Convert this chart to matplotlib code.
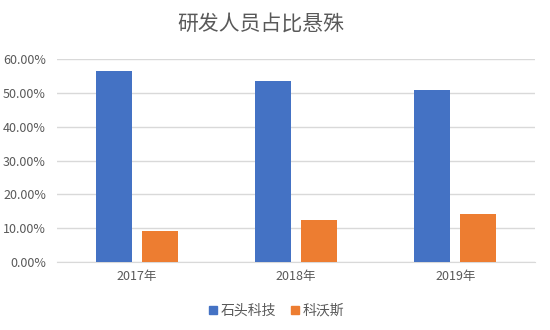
import numpy as np
import matplotlib
matplotlib.use("Agg")
import matplotlib.pyplot as plt
from matplotlib.patches import Patch

plt.rcParams['font.family'] = ['Noto Sans CJK SC', 'DejaVu Sans']

years = ["2017年", "2018年", "2019年"]
series_names = ["石头科技", "科沃斯"]
shitou = [56.5, 53.6, 51.0]
ecovacs = [9.2, 12.3, 14.1]
colors = ["#4472c4", "#ed7d31"]

fig = plt.figure(figsize=(5.5, 3.3), dpi=100)
ax = fig.add_axes([0.1036, 0.206, 0.869, 0.615])

x = np.arange(len(years))
w = 0.226
off = 0.144
ax.bar(x - off, shitou, w, color=colors[0], zorder=3)
ax.bar(x + off, ecovacs, w, color=colors[1], zorder=3)

ax.set_xlim(-0.5, 2.5)
ax.set_ylim(0, 60)
ax.set_yticks(np.arange(0, 61, 10))
ax.set_yticklabels([f"{v:.2f}%" for v in np.arange(0, 61, 10)])
ax.set_xticks(x)
ax.set_xticklabels(years)
ax.grid(axis="y", color="#d9d9d9", lw=1, zorder=0)
for s in ["top", "right", "left"]:
    ax.spines[s].set_visible(False)
ax.spines["bottom"].set_color("#d9d9d9")
ax.tick_params(length=0, colors="#595959", labelsize=9)
ax.tick_params(axis="y", pad=8)
ax.tick_params(axis="x", pad=6)

fig.text(0.475, 0.927, "研发人员占比悬殊", ha="center", va="center",
         fontsize=15, color="#595959")

handles = [Patch(color=c) for c in colors]
fig.legend(handles, series_names, loc="center", bbox_to_anchor=(0.503, 0.058),
           ncol=2, frameon=False, fontsize=10, handlelength=0.6, handleheight=0.6,
           handletextpad=0.3, columnspacing=1.0, labelcolor="#595959")

fig.savefig("out.png", dpi=100)
